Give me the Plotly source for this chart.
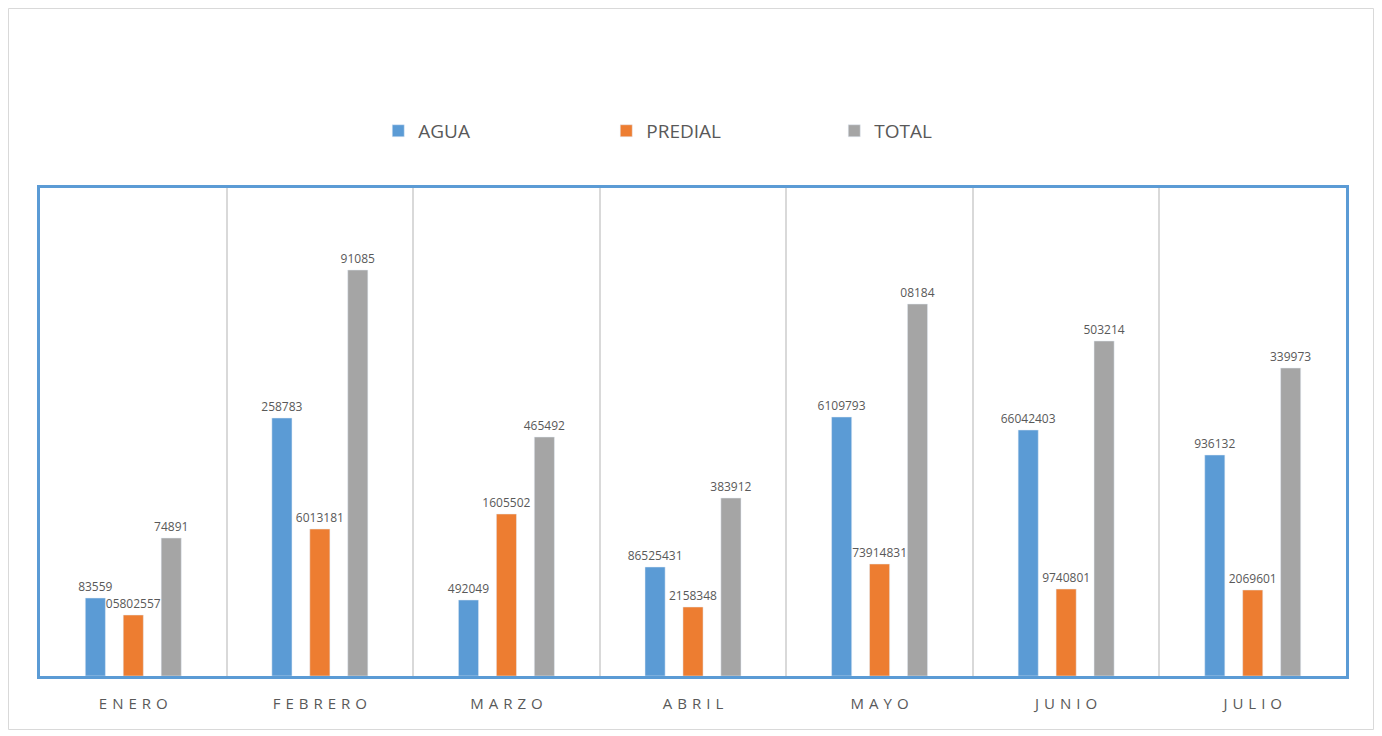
import plotly.graph_objects as go

months = ["ENERO", "FEBRERO", "MARZO", "ABRIL", "MAYO", "JUNIO", "JULIO"]
agua = [78, 258, 76, 109, 259, 246, 221]
predial = [61, 147, 162, 69, 112, 87, 86]
total = [138, 406, 239, 178, 372, 335, 308]

agua_labels = ["83559", "258783", "492049", "86525431", "6109793", "66042403", "936132"]
predial_labels = ["05802557", "6013181", "1605502", "2158348", "73914831", "9740801", "2069601"]
total_labels = ["74891", "91085", "465492", "383912", "08184", "503214", "339973"]

tick_text = ["\u2004".join(m) for m in months]

FONT = "Open Sans, Noto Sans, sans-serif"
GRAY_TXT = "#595959"

W, H = 1366, 722
ML, MR, MT, MB = 32, 28, 180, 54
PW, PH = W - ML - MR, H - MT - MB

fig = go.Figure()
for name, vals, labs, color in [
    ("AGUA", agua, agua_labels, "#5B9BD5"),
    ("PREDIAL", predial, predial_labels, "#ED7D31"),
    ("TOTAL", total, total_labels, "#A5A5A5"),
]:
    fig.add_trace(go.Bar(
        x=months, y=vals, name=name, marker_color=color,
        text=labs, textposition="outside", textangle=0,
        textfont=dict(color=GRAY_TXT, size=12, family=FONT),
        cliponaxis=False,
    ))

fig.add_shape(type="rect", xref="paper", yref="paper", layer="below",
              x0=(-ML + 0.5) / PW, x1=1 + (MR - 0.5) / PW,
              y0=(-MB + 0.5) / PH, y1=1 + (MT - 0.5) / PH,
              line=dict(color="#D9D9D9", width=1))

fig.update_layout(
    width=W, height=H,
    margin=dict(l=ML, r=MR, t=MT, b=MB),
    paper_bgcolor="white", plot_bgcolor="white",
    barmode="group", bargap=0.39, bargroupgap=0.47,
    font=dict(family=FONT, color=GRAY_TXT),
    legend=dict(orientation="h", x=0.259, xanchor="left", y=1.117, yanchor="middle",
                font=dict(size=19, color=GRAY_TXT), entrywidth=183, itemwidth=30),
    xaxis=dict(type="category", tickmode="array", tickvals=months, ticktext=tick_text,
               tickson="boundaries", showgrid=True, gridcolor="#D9D9D9", gridwidth=2,
               ticks="", showline=True, mirror=True, linecolor="#5B9BD5", linewidth=3,
               ticklabelstandoff=12,
               tickfont=dict(size=15, color=GRAY_TXT)),
    yaxis=dict(range=[0, 488], showgrid=False, showticklabels=False, zeroline=False,
               showline=True, mirror=True, linecolor="#5B9BD5", linewidth=3, ticks=""),
    uniformtext=dict(minsize=8, mode="show"),
)

fig.write_html("out.html")
